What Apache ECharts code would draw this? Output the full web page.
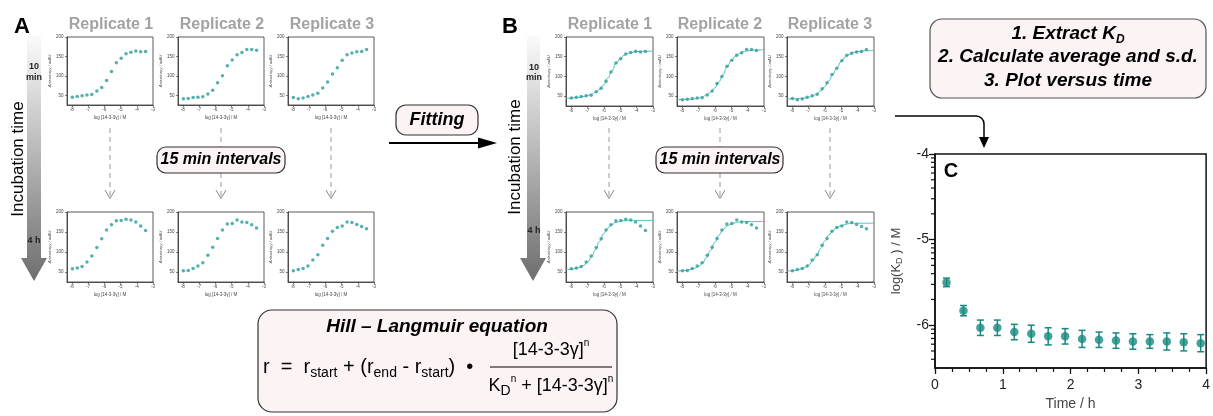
<!DOCTYPE html>
<html><head><meta charset="utf-8">
<script src="https://cdn.jsdelivr.net/npm/echarts@6/dist/echarts.min.js"></script>
<style>html,body{margin:0;padding:0;background:#fff}#c{width:1213px;height:416px}</style>
</head><body><div id="c"></div>
<script>
// ---------- DATA ----------
const concLog = [-7.97,-7.67,-7.37,-7.07,-6.77,-6.46,-6.16,-5.86,-5.56,-5.26,-4.96,-4.66,-4.36,-4.06,-3.76,-3.46];
const rep1Start = [45,47,49,51,52,61,70,88,111,134,145,157,161,164,162,163];
const rep2Start = [41,42,44,45,46,53,63,82,100,126,141,154,160,168,168,166];
const rep3Start = [44,41,43,47,51,55,69,84,105,121,140,154,159,162,163,168];
const rep1End = [58,60,64,75,90,111,133,155,168,178,179,182,180,175,165,154];
const rep2End = [53,54,59,65,73,92,112,134,155,170,171,180,175,174,168,160];
const rep3End = [53,56,59,65,80,93,117,134,152,161,165,175,174,169,164,158];

const fitX = [-8.3,-8,-7.75,-7.5,-7.25,-7,-6.75,-6.5,-6.25,-6,-5.75,-5.5,-5.25,-5,-4.75,-4.5,-4.25,-4,-3.5,-3];
const fit1Start = [45,45,46,47,49,51,55,60,67,79,96,115,133,146,154,159,161,163,164,164];
const fit2Start = [41,41,42,42,43,45,48,53,60,71,86,105,124,140,151,158,163,165,167,168];
const fit3Start = [43,43,43,44,45,47,50,55,63,74,89,106,123,138,149,156,161,163,165,166];
const fit1End = [56,57,58,61,66,74,87,106,127,146,160,169,174,177,178,179,179,179,179,179];
const fit2End = [52,53,54,56,59,64,72,86,104,124,142,156,165,170,173,175,176,176,176,176];
const fit3End = [52,53,54,57,61,67,77,91,109,127,143,154,162,166,169,171,172,172,172,172];

const timeH = [0.17,0.42,0.67,0.92,1.17,1.42,1.67,1.92,2.17,2.42,2.67,2.92,3.17,3.42,3.67,3.92];
const logKd = [-5.50,-5.83,-6.03,-6.03,-6.08,-6.10,-6.13,-6.13,-6.16,-6.17,-6.18,-6.19,-6.19,-6.19,-6.20,-6.21];
const logKdSd = [0.05,0.06,0.09,0.09,0.09,0.10,0.10,0.09,0.10,0.09,0.09,0.09,0.08,0.10,0.10,0.10];

const smallXTicks = [-8,-7,-6,-5,-4,-3];
const smallYTicks = [50,100,150,200];
const cYTicks = [-6,-5,-4];
const cYMinorTicks = [-4.046,-4.097,-4.155,-4.222,-4.301,-4.398,-4.523,-4.699,
  -5.046,-5.097,-5.155,-5.222,-5.301,-5.398,-5.523,-5.699,
  -6.046,-6.097,-6.155,-6.222,-6.301,-6.398];
const replicateNames = ['Replicate 1','Replicate 2','Replicate 3'];

// ---------- LAYOUT / STYLE ----------
const FONT = '"Liberation Sans", Arial, Helvetica, sans-serif';
const TEAL = '#2a9d96', FITC = '#4fbfb8', CTEAL = '#178a80';
const grids = [], xAxes = [], yAxes = [], series = [];

function addSmall(left, top, w, h, ys, fit) {
  const gi = grids.length;
  grids.push({left, top, width: w, height: h, show: true, borderColor: '#333', borderWidth: 0.8});
  xAxes.push({gridIndex: gi, type: 'value', min: -8.3, max: -3,
    axisLine: {show: true, onZero: false, lineStyle: {color: '#333', width: 0.8}},
    axisTick: {show: true, customValues: smallXTicks, length: 2, lineStyle: {color: '#333', width: 0.6}},
    axisLabel: {customValues: smallXTicks, fontSize: 4.5, margin: 2.5, color: '#444', fontFamily: FONT},
    splitLine: {show: false},
    name: 'log [14-3-3γ] / M', nameLocation: 'middle', nameGap: 10,
    nameTextStyle: {fontSize: 4.5, color: '#444', fontFamily: FONT}});
  yAxes.push({gridIndex: gi, type: 'value', min: 25, max: 200,
    axisLine: {show: true, onZero: false, lineStyle: {color: '#333', width: 0.8}},
    axisTick: {show: true, customValues: smallYTicks, length: 2, lineStyle: {color: '#333', width: 0.6}},
    axisLabel: {customValues: smallYTicks, fontSize: 4.5, margin: 3.5, color: '#444', fontFamily: FONT},
    splitLine: {show: false},
    name: 'Anisotropy / mAU', nameLocation: 'middle', nameRotate: 90, nameGap: 14,
    nameTextStyle: {fontSize: 4.2, color: '#444', fontStyle: 'italic', fontFamily: FONT}});
  if (fit) series.push({type: 'line', xAxisIndex: gi, yAxisIndex: gi, data: fitX.map((x, i) => [x, fit[i]]),
    smooth: 0.5, smoothMonotone: 'x', symbol: 'none', lineStyle: {color: FITC, width: 1}, z: 2, silent: true});
  series.push({type: 'scatter', xAxisIndex: gi, yAxisIndex: gi, data: concLog.map((x, i) => [x, ys[i]]),
    symbolSize: 3.5, itemStyle: {color: TEAL}, z: 3, silent: true});
}

const aLefts = [67, 178, 288], bLefts = [566, 677, 787];
const startSets = [rep1Start, rep2Start, rep3Start], endSets = [rep1End, rep2End, rep3End];
const fitStart = [fit1Start, fit2Start, fit3Start], fitEnd = [fit1End, fit2End, fit3End];
for (let i = 0; i < 3; i++) addSmall(aLefts[i], 37, 86, 68, startSets[i], null);
for (let i = 0; i < 3; i++) addSmall(aLefts[i], 212, 86, 70, endSets[i], null);
for (let i = 0; i < 3; i++) addSmall(bLefts[i], 37, 87, 69, startSets[i], fitStart[i]);
for (let i = 0; i < 3; i++) addSmall(bLefts[i], 212, 87, 70, endSets[i], fitEnd[i]);

// ---------- PANEL C ----------
const cg = grids.length;
grids.push({left: 935, top: 154, width: 273, height: 218, show: true, borderColor: '#111', borderWidth: 1.5});
xAxes.push({gridIndex: cg, type: 'value', min: 0, max: 4, interval: 1,
  axisLine: {onZero: false, lineStyle: {color: '#111', width: 1.5}},
  axisTick: {length: 6, lineStyle: {color: '#111', width: 1.3}},
  minorTick: {show: true, splitNumber: 4, length: 4, lineStyle: {color: '#111', width: 1.2}},
  axisLabel: {fontSize: 14, color: '#222', margin: 10, fontFamily: FONT},
  splitLine: {show: false}, minorSplitLine: {show: false},
  name: 'Time / h', nameLocation: 'middle', nameGap: 29,
  nameTextStyle: {fontSize: 14, color: '#444', fontFamily: FONT}});
yAxes.push({gridIndex: cg, type: 'value', min: -6.5, max: -4,
  axisLine: {onZero: false, lineStyle: {color: '#111', width: 1.5}},
  axisTick: {customValues: cYTicks, length: 6, lineStyle: {color: '#111', width: 1.3}},
  axisLabel: {customValues: cYTicks, fontSize: 14, color: '#222', margin: 6, fontFamily: FONT},
  splitLine: {show: false},
  name: 'log(K{s|D} ) / M', nameLocation: 'middle', nameRotate: 90, nameGap: 31,
  nameTextStyle: {fontSize: 13, color: '#444', fontFamily: FONT, lineHeight: 16,
    rich: {s: {fontSize: 9, color: '#444', fontFamily: FONT, verticalAlign: 'bottom', lineHeight: 9}}}});

// minor (log-spaced) ticks on the C y-axis
series.push({type: 'custom', xAxisIndex: cg, yAxisIndex: cg, clip: false, silent: true, z: 5,
  data: cYMinorTicks.map(v => [0, v]),
  renderItem: function (params, api) {
    const c = api.coord([0, api.value(1)]);
    return {type: 'line', shape: {x1: c[0] - 4, y1: c[1], x2: c[0], y2: c[1]}, style: {stroke: '#111', lineWidth: 1.2}};
  }});
series.push({type: 'custom', xAxisIndex: cg, yAxisIndex: cg, z: 3, silent: true,
  data: timeH.map((t, i) => [t, logKd[i], logKdSd[i]]),
  renderItem: function (params, api) {
    const x = api.value(0), y = api.value(1), e = api.value(2);
    const a = api.coord([x, y + e]), b = api.coord([x, y - e]);
    const w = 3.5, st = {stroke: CTEAL, lineWidth: 1.5};
    return {type: 'group', children: [
      {type: 'line', shape: {x1: a[0], y1: a[1], x2: b[0], y2: b[1]}, style: st},
      {type: 'line', shape: {x1: a[0] - w, y1: a[1], x2: a[0] + w, y2: a[1]}, style: st},
      {type: 'line', shape: {x1: b[0] - w, y1: b[1], x2: b[0] + w, y2: b[1]}, style: st}]};
  }});
series.push({type: 'scatter', xAxisIndex: cg, yAxisIndex: cg, z: 4, silent: true,
  data: timeH.map((t, i) => [t, logKd[i]]), symbolSize: 8.5, itemStyle: {color: CTEAL}});

// ---------- GRAPHICS ----------
function T(x, y, text, st, extra) {
  return Object.assign({type: 'text', x: x, y: y, style: Object.assign({text: text, fontFamily: FONT, fontSize: 12,
    fill: '#000', align: 'center', verticalAlign: 'middle'}, st || {})}, extra || {});
}
const grad = {type: 'linear', x: 0, y: 0, x2: 0, y2: 1,
  colorStops: [{offset: 0, color: '#fbfbfb'}, {offset: 1, color: '#6e6e6e'}]};
const boxStyle = {fill: '#fcf3f5', stroke: '#333', lineWidth: 1.2};
const BI = {fontWeight: 'bold', fontStyle: 'italic'};
const g = [];
// incubation arrows
g.push({type: 'polygon', shape: {points: [[27,36],[41,36],[41,258],[47,258],[34,281],[21,258],[27,258]]}, style: {fill: grad}});
g.push({type: 'polygon', shape: {points: [[527,36],[540,36],[540,258],[546,258],[533,281],[520,258],[527,258]]}, style: {fill: grad}});
g.push(T(18, 159, 'Incubation time', {fontSize: 17}, {rotation: Math.PI / 2}));
g.push(T(515, 157, 'Incubation time', {fontSize: 17}, {rotation: Math.PI / 2}));
g.push(T(34, 67, '10', {fontSize: 9, fontWeight: 'bold', fill: '#222'}));
g.push(T(34, 78, 'min', {fontSize: 9, fontWeight: 'bold', fill: '#222'}));
g.push(T(534, 68, '10', {fontSize: 9, fontWeight: 'bold', fill: '#222'}));
g.push(T(534, 78, 'min', {fontSize: 9, fontWeight: 'bold', fill: '#222'}));
g.push(T(34, 241, '4 h', {fontSize: 9, fontWeight: 'bold', fill: '#222'}));
g.push(T(534, 231, '4 h', {fontSize: 9, fontWeight: 'bold', fill: '#222'}));
// panel letters
g.push(T(22, 27, 'A', {fontSize: 22, fontWeight: 'bold'}));
g.push(T(510, 27, 'B', {fontSize: 22, fontWeight: 'bold'}));
g.push(T(951, 171, 'C', {fontSize: 20, fontWeight: 'bold'}));
// replicate titles
[111, 222, 332].forEach((x, i) => g.push(T(x, 25, replicateNames[i], {fontSize: 16, fontWeight: 'bold', fill: '#a3a3a3'})));
[610, 720, 830].forEach((x, i) => g.push(T(x, 25, replicateNames[i], {fontSize: 16, fontWeight: 'bold', fill: '#a3a3a3'})));
// dashed arrows
[110, 221, 331, 609, 720, 830].forEach(x => {
  g.push({type: 'line', shape: {x1: x, y1: 128, x2: x, y2: 198}, style: {stroke: '#9a9a9a', lineWidth: 1, lineDash: [5, 4]}});
  g.push({type: 'polyline', shape: {points: [[x - 5, 190], [x, 198.5], [x + 5, 190]]}, style: {stroke: '#8a8a8a', lineWidth: 1, fill: 'none'}});
});
// 15 min boxes
g.push({type: 'rect', shape: {x: 157, y: 147, width: 128, height: 26, r: 9}, style: boxStyle});
g.push(T(221, 160, '15 min intervals', Object.assign({fontSize: 16}, BI)));
g.push({type: 'rect', shape: {x: 656, y: 147, width: 127, height: 26, r: 9}, style: boxStyle});
g.push(T(720, 160, '15 min intervals', Object.assign({fontSize: 16}, BI)));
// fitting
g.push({type: 'rect', shape: {x: 396, y: 105, width: 82, height: 30, r: 10}, style: boxStyle});
g.push(T(437, 120, 'Fitting', Object.assign({fontSize: 18}, BI)));
g.push({type: 'line', shape: {x1: 389, y1: 143, x2: 482, y2: 143}, style: {stroke: '#000', lineWidth: 2}});
g.push({type: 'polygon', shape: {points: [[478,137.5],[497,143],[478,148.5]]}, style: {fill: '#000'}});
// top right box
g.push({type: 'rect', shape: {x: 930, y: 19, width: 276, height: 79, r: 12}, style: {fill: '#fcf3f5', stroke: '#555', lineWidth: 1.2}});
g.push(T(1068, 34, '1. Extract K{s|D}', Object.assign({fontSize: 19, lineHeight: 24,
  rich: {s: {fontSize: 12, fontWeight: 'bold', fontStyle: 'italic', fontFamily: FONT, fill: '#000', verticalAlign: 'bottom', lineHeight: 12}}}, BI)));
g.push(T(1068, 57, '2. Calculate average and s.d.', Object.assign({fontSize: 19}, BI)));
g.push(T(1068, 81, '3. Plot versus time', Object.assign({fontSize: 19}, BI)));
// arrow to C
g.push({type: 'line', shape: {x1: 895, y1: 116, x2: 976, y2: 116}, style: {stroke: '#000', lineWidth: 1.5}});
g.push({type: 'arc', shape: {cx: 976, cy: 124, r: 8, startAngle: -Math.PI / 2, endAngle: 0, clockwise: true}, style: {stroke: '#000', lineWidth: 1.5, fill: 'none'}});
g.push({type: 'line', shape: {x1: 984, y1: 124, x2: 984, y2: 140}, style: {stroke: '#000', lineWidth: 1.5}});
g.push({type: 'polygon', shape: {points: [[979,137],[984,148],[989,137]]}, style: {fill: '#000'}});
// Hill-Langmuir box
const eqRich = {
  s: {fontSize: 14, fontFamily: FONT, fill: '#000', verticalAlign: 'bottom', lineHeight: 14},
  p: {fontSize: 10, fontFamily: FONT, fill: '#000', verticalAlign: 'top', lineHeight: 10}};
g.push({type: 'rect', shape: {x: 258, y: 310, width: 359, height: 102, r: 14}, style: {fill: '#fcf3f5', stroke: '#333', lineWidth: 1.2}});
g.push(T(437, 327, 'Hill – Langmuir equation', Object.assign({fontSize: 19}, BI)));
g.push(T(263, 367, 'r  =  r{s|start} + (r{s|end} - r{s|start})  •', {fontSize: 20, lineHeight: 27, align: 'left', rich: eqRich}));
g.push(T(551, 350, '[14-3-3γ]{p|n}', {fontSize: 18, lineHeight: 24, rich: eqRich}));
g.push({type: 'line', shape: {x1: 490, y1: 367, x2: 612, y2: 367}, style: {stroke: '#000', lineWidth: 1.2}});
g.push(T(551, 386, 'K{s|D}{p|n} + [14-3-3γ]{p|n}', {fontSize: 18, lineHeight: 24, rich: eqRich}));

const chart = echarts.init(document.getElementById('c'), null, {renderer: 'canvas'});
chart.setOption({
  animation: false,
  backgroundColor: '#fff',
  textStyle: {fontFamily: FONT},
  grid: grids, xAxis: xAxes, yAxis: yAxes, series: series,
  graphic: {elements: g}
});
</script>
</body></html>
